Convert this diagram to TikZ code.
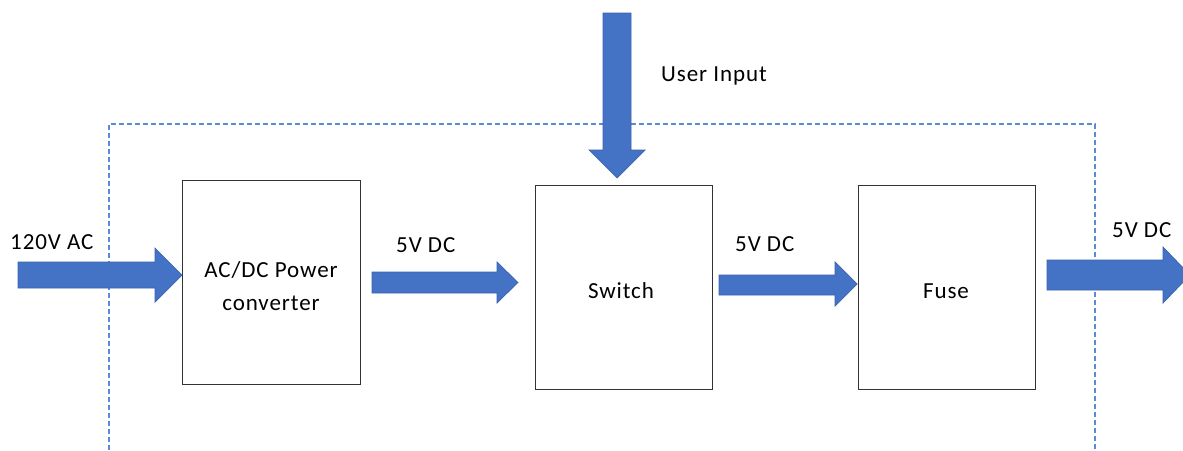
\documentclass[tikz,border=0pt]{standalone}
\usepackage{fontspec}
\setmainfont{Carlito}[LetterSpace=4]
\begin{document}
\begin{tikzpicture}[x=1pt,y=-1pt,
  blockbox/.style={draw=black!80, line width=0.9pt, fill=white},
  flow/.style={fill=flowblue, draw=flowedge, line width=0.7pt, line join=miter},
  boundary/.style={draw=dashblue, line width=1.2pt, dash pattern=on 5pt off 3pt},
  lbl/.style={font=\fontsize{23}{28}\selectfont, inner sep=0pt}]
\definecolor{flowblue}{HTML}{4472C4}
\definecolor{flowedge}{HTML}{3A62AC}
\definecolor{dashblue}{HTML}{5B8AD8}
\useasboundingbox (0,0) rectangle (1183,450);

% system boundary
\draw[boundary] (109,450) -- (109,124) -- (1095,124) -- (1095,450);

% blocks
\draw[blockbox] (182,180) rectangle (360,384);
\draw[blockbox] (535,185) rectangle (712,389);
\draw[blockbox] (858,185) rectangle (1035,389);
\node[lbl, anchor=base] (conv1) at (271,277) {AC/DC Power};
\node[lbl, anchor=base] (conv2) at (271,310) {converter};
\node[lbl, anchor=base] (switch) at (621,298) {Switch};
\node[lbl, anchor=base] (fuse) at (946,298) {Fuse};

% power flow arrows
\draw[flow] (18,262) -- (155,262) -- (155,248) -- (182,275) -- (155,302) -- (155,288) -- (18,288) -- cycle;
\draw[flow] (372,272) -- (497,272) -- (497,262) -- (518,282.5) -- (497,303) -- (497,293) -- (372,293) -- cycle;
\draw[flow] (719,275) -- (835,275) -- (835,262) -- (857,284) -- (835,306) -- (835,295) -- (719,295) -- cycle;
\draw[flow] (1047,260) -- (1163,260) -- (1163,247) -- (1190,275) -- (1163,303) -- (1163,290) -- (1047,290) -- cycle;
\draw[flow] (603,13) -- (631,13) -- (631,150) -- (645,150) -- (617,178) -- (589,150) -- (603,150) -- cycle;

% labels
\node[lbl, anchor=base west] (acin) at (10,249) {120V AC};
\node[lbl, anchor=base west] (dc1) at (396,252) {5V DC};
\node[lbl, anchor=base west] (dc2) at (735,251) {5V DC};
\node[lbl, anchor=base west] (dc3) at (1112,237) {5V DC};
\node[lbl, anchor=base west] (user) at (661,81) {User Input};
\end{tikzpicture}
\end{document}
